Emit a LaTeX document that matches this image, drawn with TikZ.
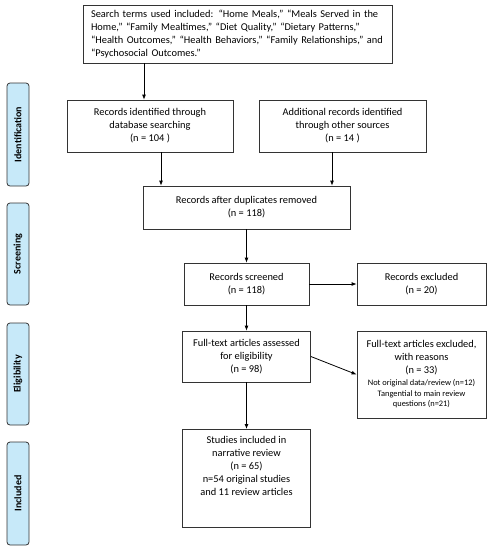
\documentclass[tikz,border=0pt]{standalone}
\usepackage{fontspec}
\setmainfont{Carlito}
\usetikzlibrary{arrows.meta,calc}
\definecolor{sidefill}{HTML}{C7E9F9}
\definecolor{boxline}{HTML}{333333}
\tikzset{
  box/.style={draw=boxline, line width=0.8pt, fill=white, align=center, inner sep=2pt,
    font=\fontsize{10.4}{13}\selectfont},
  side/.style={draw=boxline, line width=0.8pt, fill=sidefill, rounded corners=3pt,
    minimum width=22pt, rotate=90, font=\bfseries\fontsize{10}{12}\selectfont, inner sep=0pt},
  arr/.style={-{Latex[length=5pt,width=4pt]}, line width=0.8pt, black},
}
\newcommand{\smalltxt}{\fontsize{8.4}{10.5}\selectfont}
\begin{document}
\begin{tikzpicture}[x=1pt,y=1pt]
\useasboundingbox (0,0) rectangle (491,-550);
% side labels
\node[side, minimum width=103pt, minimum height=22pt] (sid) at (18,-134.5) {Identification};
\node[side, minimum width=102pt, minimum height=22pt] (ssc) at (18,-254) {Screening};
\node[side, minimum width=102pt, minimum height=22pt] (sel) at (18,-374) {Eligibility};
\node[side, minimum width=103pt, minimum height=22pt] (sin) at (18,-493.5) {Included};
% boxes
\node[box, minimum width=309pt, minimum height=58pt, align=left, text width=293pt, inner xsep=8pt] (top) at (237.5,-34)
  {Search terms used included: “Home Meals,” “Meals Served in the\\
   Home,” “Family Mealtimes,” “Diet Quality,” “Dietary Patterns,”\\
   “Health Outcomes,” “Health Behaviors,” “Family Relationships,” and\\
   “Psychosocial Outcomes.”};
\node[box, minimum width=166pt, minimum height=52pt] (recid) at (150,-126)
  {Records identified through\\database searching\\(n = 104 )};
\node[box, minimum width=167pt, minimum height=52pt] (addl) at (342.5,-126)
  {Additional records identified\\through other sources\\(n = 14 )};
\node[box, minimum width=207pt, minimum height=43pt] (dup) at (246.5,-207.5)
  {Records after duplicates removed\\(n = 118)};
\node[box, minimum width=125pt, minimum height=42pt] (scr) at (246.5,-284)
  {Records screened\\(n = 118)};
\node[box, minimum width=129pt, minimum height=42pt] (exc) at (421.5,-284)
  {Records excluded\\(n = 20)};
\node[box, minimum width=128pt, minimum height=51pt] (ass) at (246.5,-356.5)
  {Full-text articles assessed\\for eligibility\\(n = 98)};
\node[box, minimum width=129pt, minimum height=87pt] (ftx) at (421.5,-374.5)
  {Full-text articles excluded,\\with reasons\\(n = 33)\\[-1pt]
   {\smalltxt Not original data/review (n=12)}\\[-2.5pt]
   {\smalltxt Tangential to main review}\\[-2.5pt]
   {\smalltxt questions (n=21)}};
\node[box, minimum width=128pt, minimum height=98pt, anchor=north] (stu) at (246.5,-429)
  {\parbox[c][90pt][t]{124pt}{\centering\vspace*{3pt}Studies included in\\narrative review\\(n = 65)\\n=54 original studies\\and 11 review articles}};
% connectors
\coordinate (c1) at ([xshift=-6pt]recid.north);
\draw[arr] (top.south -| c1) -- (c1);
\coordinate (c2) at ([xshift=11pt]recid.south);
\draw[arr] (c2) -- (c2 |- dup.north);
\coordinate (c3) at ([xshift=-10.5pt]addl.south);
\draw[arr] (c3) -- (c3 |- dup.north);
\draw[arr] (dup.south) -- (scr.north);
\draw[arr] (scr.east) -- (exc.west);
\draw[arr] (scr.south) -- (ass.north);
\draw[arr] (ass.east) -- (ftx.west);
\draw[arr] (ass.south) -- (stu.north);
\end{tikzpicture}
\end{document}
